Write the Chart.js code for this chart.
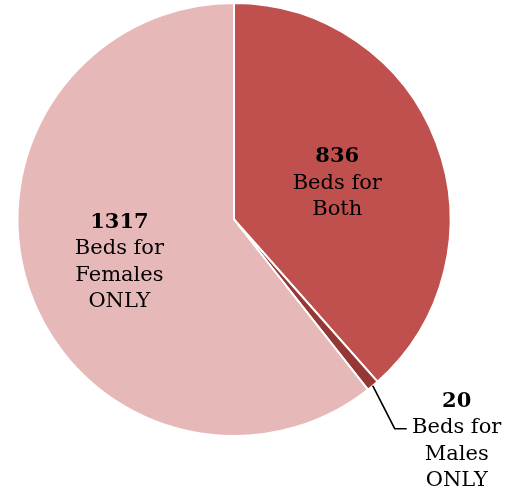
<!DOCTYPE html>
<html>
<head>
<meta charset="utf-8">
<script src="https://cdn.jsdelivr.net/npm/chart.js@4"></script>
<style>
  html, body { margin: 0; padding: 0; background: #fff; }
  #wrap { width: 514px; height: 494px; }
</style>
</head>
<body>
<div id="wrap"><canvas id="beds" width="514" height="494"></canvas></div>
<script>
var labels = ['Beds for Both', 'Beds for Males ONLY', 'Beds for Females ONLY'];
var labelLines = [['Beds for', 'Both'], ['Beds for', 'Males', 'ONLY'], ['Beds for', 'Females', 'ONLY']];
var data = [836, 20, 1317];
var colors = ['#C0504D', '#953735', '#E6B9B8'];

var FONT = '"DejaVu Serif", serif';

// draws the value + name inside the slice, or outside with a leader line for tiny slices
var sliceLabels = {
  id: 'sliceLabels',
  afterDatasetsDraw: function (chart) {
    var ctx = chart.ctx;
    var meta = chart.getDatasetMeta(0);
    var lh = 26.5;
    ctx.save();
    ctx.textAlign = 'center';
    ctx.textBaseline = 'middle';
    ctx.fillStyle = '#000';
    meta.data.forEach(function (arc, i) {
      var mid = (arc.startAngle + arc.endAngle) / 2;
      var lines = [String(data[i])].concat(labelLines[i]);
      var cx, cy;
      if (arc.endAngle - arc.startAngle < 0.2) {
        var ex = arc.x + Math.cos(mid) * arc.outerRadius;
        var ey = arc.y + Math.sin(mid) * arc.outerRadius;
        var bx = ex + 22, by = ey + 43;
        ctx.strokeStyle = '#000';
        ctx.lineWidth = 1.6;
        ctx.beginPath();
        ctx.moveTo(ex, ey);
        ctx.lineTo(bx, by);
        ctx.lineTo(bx + 12, by);
        ctx.stroke();
        cx = bx + 62;
        cy = by - lh + (lines.length - 1) * lh / 2 - 1;
      } else {
        var f = i === 0 ? 0.51 : 0.56;
        cx = arc.x + Math.cos(mid) * arc.outerRadius * f;
        cy = arc.y + Math.sin(mid) * arc.outerRadius * f + 3;
      }
      var top = cy - (lines.length - 1) * lh / 2;
      lines.forEach(function (t, k) {
        ctx.font = (k === 0 ? 'bold ' : '') + '21px ' + FONT;
        ctx.fillText(t, cx, top + k * lh);
      });
    });
    ctx.restore();
  }
};

new Chart(document.getElementById('beds'), {
  type: 'pie',
  data: {
    labels: labels,
    datasets: [{
      data: data,
      backgroundColor: colors,
      borderColor: '#fff',
      borderWidth: 2
    }]
  },
  options: {
    responsive: false,
    animation: false,
    layout: { padding: { left: 16, top: 2, right: 62, bottom: 57 } },
    plugins: {
      legend: { display: false },
      tooltip: { enabled: false }
    }
  },
  plugins: [sliceLabels]
});
</script>
</body>
</html>
